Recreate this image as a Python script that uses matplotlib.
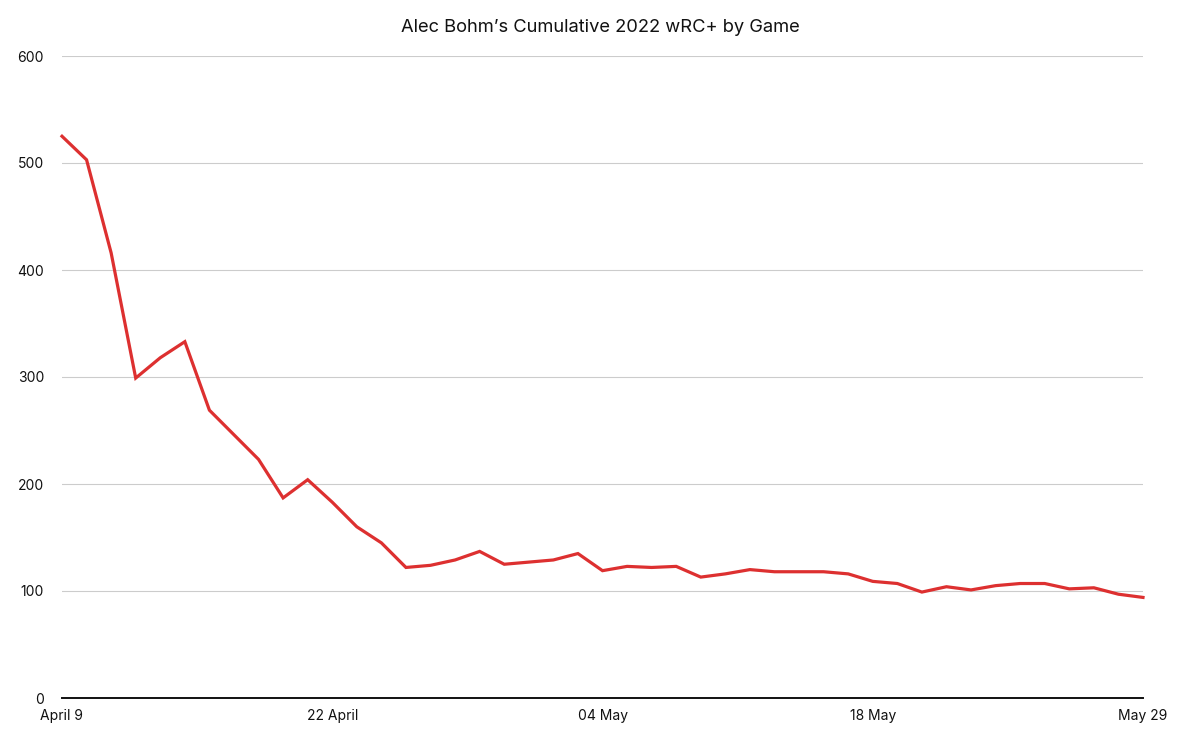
import matplotlib
matplotlib.use("Agg")
import matplotlib.pyplot as plt

# cumulative wRC+ after each game
wrc_plus = [525, 503, 416, 299, 318, 333, 269, 246, 223, 187,
            204, 183, 160, 145, 122, 124, 129, 137, 125, 127,
            129, 135, 119, 123, 122, 123, 113, 116, 120, 118,
            118, 118, 116, 109, 107, 99, 104, 101, 105, 107,
            107, 102, 103, 97, 94]
tick_games = [0, 11, 22, 33, 44]
tick_labels = ["April 9", "22 April", "04 May", "18 May", "May 29"]
y_ticks = [0, 100, 200, 300, 400, 500, 600]

plt.rcParams["font.family"] = ["Inter", "DejaVu Sans"]

fig = plt.figure(figsize=(12, 7.4), dpi=100)
ax = fig.add_axes([62/1200, 1-698/740, (1143-62)/1200, (698-56)/740])

games = list(range(len(wrc_plus)))
ax.plot(games, wrc_plus, color="#dd3030", lw=2.3, solid_joinstyle="miter", clip_on=False, zorder=3)

ax.set_xlim(0, len(wrc_plus)-1)
ax.set_ylim(0, 600)
ax.set_yticks(y_ticks)
ax.set_yticklabels([str(v) for v in y_ticks])
ax.set_xticks(tick_games)
ax.set_xticklabels(tick_labels)
ax.tick_params(axis="both", length=0, labelsize=10, colors="#111111")
ax.tick_params(axis="y", pad=13)
ax.tick_params(axis="x", pad=8)

ax.grid(axis="y", color="#cccccc", lw=0.8)
ax.set_axisbelow(True)
for s in ["top", "right", "left"]:
    ax.spines[s].set_visible(False)
ax.spines["bottom"].set_color("#111111")
ax.spines["bottom"].set_linewidth(1.4)
ax.spines["bottom"].set_zorder(4)

fig.text(0.5, 1-27/740, "Alec Bohm\u2019s Cumulative 2022 wRC+ by Game",
         ha="center", va="center", fontsize=13.2, color="#111111")

fig.savefig("out.png", dpi=100, facecolor="white")
